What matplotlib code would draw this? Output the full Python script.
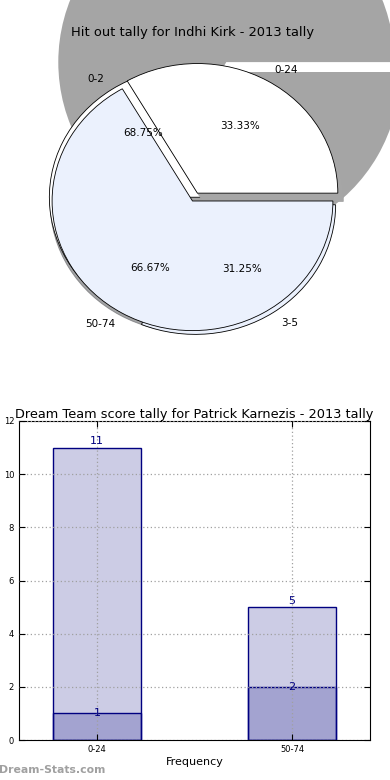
import numpy as np
import matplotlib
matplotlib.use('Agg')
import matplotlib.pyplot as plt
from matplotlib.patches import Shadow

# top pie: two tallies that ended up drawn on the same spot
hit_labels = ['0-2', '3-5']
hit_values = [11, 5]
score_labels = ['0-24', '50-74']
score_values = [1, 2]

# bottom bars
bar_labels = ['0-24', '50-74']
bar_totals = [11, 5]
bar_inner = [1, 2]

pie_colors = ['white', '#ebf1fd']
shadow_grey = '#a5a5a5'

fig = plt.figure(figsize=(3.9, 7.8), dpi=100)

#%% big grey shadow behind the pie
ax_bg = fig.add_axes([64/390, 540/780, 336/390, 336/780])
ax_bg.pie(score_values, startangle=240, explode=[0, 0.068],
          colors=[shadow_grey, shadow_grey], wedgeprops={'linewidth': 0})
ax_bg.set_xlim(-1, 1)
ax_bg.set_ylim(-1, 1)
ax_bg.set_aspect('auto')

#%% the two pies
ax = fig.add_axes([17/390, 417/780, 351/390, 324/780])
edge = {'edgecolor': 'black', 'linewidth': 0.6}
w1, _, _ = ax.pie(hit_values, labels=hit_labels, autopct='%1.2f%%', explode=[0.035, 0.035],
                  colors=pie_colors, wedgeprops=edge, textprops={'fontsize': 7.5})
for w in w1:
    w.set_zorder(0.95)
w2, _, _ = ax.pie(score_values, labels=score_labels, autopct='%1.2f%%', explode=[0.07, 0],
                  colors=pie_colors, wedgeprops=edge, textprops={'fontsize': 7.5})
# shadows of the front pie
ax.add_patch(Shadow(w2[0], 0.028, -0.046, shade=0.35, alpha=1, zorder=0.97))
ax.add_patch(Shadow(w2[1], -0.01, -0.012, zorder=0.9))
ax.set_aspect('auto')
ax.set_title('Hit out tally for Indhi Kirk - 2013 tally', fontsize=9.4, pad=2.5)

#%% bar chart
axb = fig.add_axes([19/390, 40/780, 351/390, 319/780])
x = np.arange(len(bar_labels))
bar_face = (0, 0, 0.5, 0.2)
axb.bar(x, bar_totals, width=0.45, color=bar_face, edgecolor='navy', linewidth=1)
axb.bar(x, bar_inner, width=0.45, color=bar_face, edgecolor='navy', linewidth=1)
for xi, v in zip(x, bar_totals):
    axb.text(xi, v + 0.05, str(v), ha='center', va='bottom', color='navy', fontsize=8)
for xi, v in zip(x, bar_inner):
    axb.text(xi, v, str(v), ha='center', va='center', color='navy', fontsize=8)
axb.set_xlim(-0.4, 1.4)
axb.set_ylim(0, 12)
axb.set_yticks(range(0, 13, 2))
axb.set_xticks(x)
axb.set_xticklabels(bar_labels)
axb.tick_params(direction='in', top=True, right=True, labelsize=6, length=4)
axb.grid(True, linestyle=(0, (1, 2)), color='#a0a0a0', linewidth=0.9)
axb.set_axisbelow(False)
axb.set_xlabel('Frequency', fontsize=8, labelpad=2)
axb.set_ylabel('Score Interval', fontsize=8)
axb.set_title('Dream Team score tally for Patrick Karnezis - 2013 tally', fontsize=9.25, pad=2)

fig.text(-1/390, 10/780, 'Dream-Stats.com', color='#a0a0a0', fontsize=7.8,
         fontweight='bold', va='center', ha='left')

fig.savefig('out.png', dpi=100)
